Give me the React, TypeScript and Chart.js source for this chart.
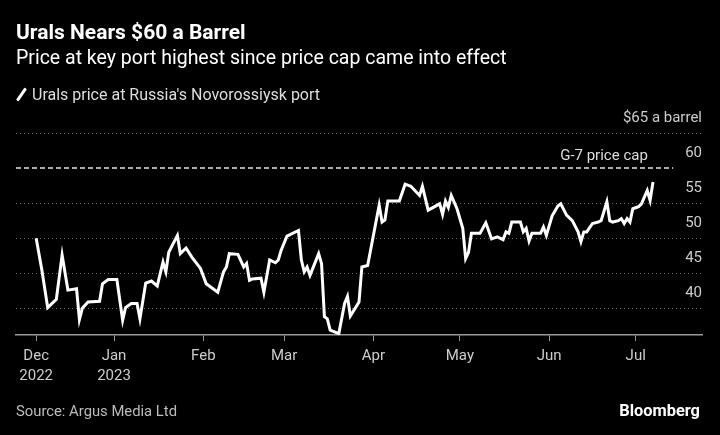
import { useEffect, useRef } from "react";
import { Chart, registerables } from "chart.js";

Chart.register(...registerables);

const dates = [
  "2022-12-05", "2022-12-07", "2022-12-09", "2022-12-12", "2022-12-14", "2022-12-16", "2022-12-19", "2022-12-20",
  "2022-12-21", "2022-12-23", "2022-12-27", "2022-12-28", "2022-12-30", "2023-01-02", "2023-01-04", "2023-01-05",
  "2023-01-07", "2023-01-09", "2023-01-10", "2023-01-12", "2023-01-14", "2023-01-16", "2023-01-18", "2023-01-19",
  "2023-01-20", "2023-01-23", "2023-01-24", "2023-01-26", "2023-01-28", "2023-01-31", "2023-02-02", "2023-02-06",
  "2023-02-08", "2023-02-09", "2023-02-10", "2023-02-13", "2023-02-15", "2023-02-16", "2023-02-17", "2023-02-18",
  "2023-02-21", "2023-02-22", "2023-02-24", "2023-02-26", "2023-02-27", "2023-02-28", "2023-03-02", "2023-03-06",
  "2023-03-07", "2023-03-08", "2023-03-09", "2023-03-10", "2023-03-13", "2023-03-14", "2023-03-15", "2023-03-16",
  "2023-03-17", "2023-03-20", "2023-03-22", "2023-03-23", "2023-03-24", "2023-03-27", "2023-03-28", "2023-03-30",
  "2023-04-03", "2023-04-04", "2023-04-05", "2023-04-06", "2023-04-10", "2023-04-12", "2023-04-14", "2023-04-17",
  "2023-04-18", "2023-04-20", "2023-04-24", "2023-04-25", "2023-04-26", "2023-04-27", "2023-04-28", "2023-04-30",
  "2023-05-02", "2023-05-03", "2023-05-04", "2023-05-05", "2023-05-08", "2023-05-10", "2023-05-12", "2023-05-14",
  "2023-05-16", "2023-05-17", "2023-05-18", "2023-05-19", "2023-05-22", "2023-05-23", "2023-05-24", "2023-05-25",
  "2023-05-26", "2023-05-29", "2023-05-30", "2023-05-31", "2023-06-02", "2023-06-04", "2023-06-05", "2023-06-07",
  "2023-06-09", "2023-06-11", "2023-06-12", "2023-06-13", "2023-06-14", "2023-06-16", "2023-06-18", "2023-06-19",
  "2023-06-21", "2023-06-22", "2023-06-23", "2023-06-25", "2023-06-26", "2023-06-27", "2023-06-28", "2023-06-29",
  "2023-06-30", "2023-07-02", "2023-07-03", "2023-07-05", "2023-07-06", "2023-07-07",
];

const prices = [
  50.0, 45.4, 40.1, 41.3, 47.6, 42.6, 42.8, 38.4,
  40.0, 40.9, 41.0, 43.5, 44.1, 44.1, 38.3, 40.1,
  40.7, 40.7, 38.5, 43.6, 43.9, 43.2, 46.6, 45.2,
  48.0, 50.4, 47.8, 48.6, 47.3, 45.7, 43.5, 42.3,
  45.2, 45.9, 47.8, 47.7, 45.9, 46.4, 44.0, 44.2,
  44.3, 42.3, 46.9, 46.5, 46.9, 48.3, 50.3, 51.1,
  46.9, 45.2, 45.9, 44.7, 47.8, 46.4, 38.8, 38.5,
  36.9, 36.4, 40.7, 41.7, 38.9, 40.9, 45.9, 46.1,
  54.7, 52.3, 52.6, 55.3, 55.3, 57.7, 57.4, 56.1,
  57.4, 54.0, 54.9, 53.4, 55.3, 54.4, 56.1, 54.2,
  51.4, 47.1, 48.0, 50.7, 50.7, 52.2, 49.9, 50.2,
  49.8, 50.9, 50.7, 52.3, 52.3, 50.9, 51.4, 49.6,
  50.7, 50.7, 51.6, 50.4, 53.2, 54.6, 54.9, 53.3,
  52.5, 50.9, 49.5, 50.9, 50.9, 52.1, 52.3, 52.5,
  55.2, 52.5, 52.3, 52.5, 52.8, 52.1, 52.8, 52.3,
  54.2, 54.5, 54.9, 56.8, 55.4, 58.0,
];

const priceCap = 60;
const capLabel = "G-7 price cap";
const capEndDate = "2023-07-14";
const capLabelDate = "2023-06-20";

const axisStartDate = "2022-11-28";
const axisEndDate = "2023-07-24";
const yMin = 36.2;
const yMax = 65;
const yTickValues = [40, 45, 50, 55, 60, 65];
const yTopLabel = "$65 a barrel";

const xTickDates = ["2022-12-05", "2023-01-01", "2023-02-01", "2023-03-01", "2023-04-01", "2023-05-01", "2023-06-01", "2023-07-01"];
const xTickLabels: (string | string[])[] = [["Dec", "2022"], ["Jan", "2023"], "Feb", "Mar", "Apr", "May", "Jun", "Jul"];

const titleText = "Urals Nears $60 a Barrel";
const subtitleText = "Price at key port highest since price cap came into effect";
const legendText = "Urals price at Russia's Novorossiysk port";
const sourceText = "Source: Argus Media Ltd";
const brandText = "Bloomberg";

const START = Date.UTC(2022, 11, 5);
function dayOf(s: string): number {
  const [y, m, d] = s.split("-").map(Number);
  return (Date.UTC(y, m - 1, d) - START) / 86400000;
}

const FONT = "Roboto, 'Noto Sans', sans-serif";

export default function App() {
  const ref = useRef<HTMLCanvasElement | null>(null);

  useEffect(() => {
    document.body.style.margin = "0";
    document.body.style.background = "#000";
    const canvas = ref.current;
    if (!canvas) return;

    const capLabelPlugin = {
      id: "capLabel",
      afterDatasetsDraw(chart: any) {
        const { ctx, scales } = chart;
        const x = scales.x.getPixelForValue(dayOf(capLabelDate));
        const y = scales.y.getPixelForValue(priceCap);
        ctx.save();
        ctx.font = `15px ${FONT}`;
        ctx.fillStyle = "#dddddd";
        ctx.textAlign = "center";
        ctx.textBaseline = "alphabetic";
        ctx.fillText(capLabel, x, y - 8);
        ctx.restore();
      },
    };

    const chart = new Chart(canvas, {
      type: "line",
      data: {
        datasets: [
          {
            label: legendText,
            data: dates.map((d, i) => ({ x: dayOf(d), y: prices[i] })),
            borderColor: "#ffffff",
            borderWidth: 3,
            pointRadius: 0,
            tension: 0,
            fill: false,
          },
          {
            label: capLabel,
            data: [
              { x: dayOf(axisStartDate), y: priceCap },
              { x: dayOf(capEndDate), y: priceCap },
            ],
            borderColor: "#e6e6e6",
            borderWidth: 1.5,
            borderDash: [5, 3],
            pointRadius: 0,
            fill: false,
          },
        ],
      },
      options: {
        animation: false,
        responsive: false,
        maintainAspectRatio: false,
        layout: { padding: { left: 16, right: 18, top: 133, bottom: 40 } },
        plugins: {
          legend: { display: false },
          tooltip: { enabled: false },
          title: { display: false },
        },
        scales: {
          x: {
            type: "linear",
            min: dayOf(axisStartDate),
            max: dayOf(axisEndDate),
            afterBuildTicks: (s: any) => {
              s.ticks = xTickDates.map((d) => ({ value: dayOf(d) }));
            },
            afterFit: (s: any) => {
              s.height = 60;
            },
            grid: {
              drawOnChartArea: false,
              drawTicks: true,
              tickLength: 6,
              tickColor: "#9a9a9a",
              lineWidth: 1,
            },
            border: { display: true, color: "#9a9a9a", width: 1.5 },
            ticks: {
              color: "#cccccc",
              font: { family: FONT, size: 15, lineHeight: 1.35 },
              padding: 5,
              maxRotation: 0,
              autoSkip: false,
              callback: (_v: any, i: number) => xTickLabels[i],
            },
          },
          y: {
            type: "linear",
            position: "right",
            min: yMin,
            max: yMax,
            afterBuildTicks: (s: any) => {
              s.ticks = yTickValues.map((v) => ({ value: v }));
            },
            afterFit: (s: any) => {
              s.width = 0;
            },
            grid: {
              drawTicks: false,
              color: (c: any) => (c.tick && c.tick.value === priceCap ? "rgba(0,0,0,0)" : "#6a6a6a"),
              lineWidth: 1,
            },
            border: { display: false, dash: [1, 3] },
            ticks: {
              mirror: true,
              padding: 0,
              labelOffset: -15,
              color: "#cccccc",
              font: { family: FONT, size: 15 },
              callback: (v: any) => (v === yMax ? yTopLabel : String(v)),
            },
          },
        },
      },
      plugins: [capLabelPlugin],
    });

    return () => chart.destroy();
  }, []);

  return (
    <div style={{ position: "absolute", left: 0, top: 0, width: 720, height: 435, background: "#000", overflow: "hidden", fontFamily: FONT }}>
      <canvas ref={ref} width={720} height={435} style={{ position: "absolute", left: 0, top: 0, width: 720, height: 435 }} />
      <div style={{ position: "absolute", left: 16, top: 20, color: "#ffffff", fontSize: 21, fontWeight: 700, whiteSpace: "nowrap" }}>{titleText}</div>
      <div style={{ position: "absolute", left: 16, top: 46, color: "#ffffff", fontSize: 19.5, whiteSpace: "nowrap" }}>{subtitleText}</div>
      <div style={{ position: "absolute", left: 16, top: 85, color: "#dddddd", fontSize: 16, whiteSpace: "nowrap", display: "flex", alignItems: "center" }}>
        <span style={{ display: "inline-block", width: 3, height: 15, background: "#ffffff", transform: "rotate(35deg)", marginLeft: 4, marginRight: 9, borderRadius: 1 }} />
        <span>{legendText}</span>
      </div>
      <div style={{ position: "absolute", left: 16, top: 402, color: "#bbbbbb", fontSize: 14.8, whiteSpace: "nowrap" }}>{sourceText}</div>
      <div style={{ position: "absolute", right: 20, top: 401, color: "#ffffff", fontSize: 16.4, fontWeight: 700, whiteSpace: "nowrap" }}>{brandText}</div>
    </div>
  );
}
